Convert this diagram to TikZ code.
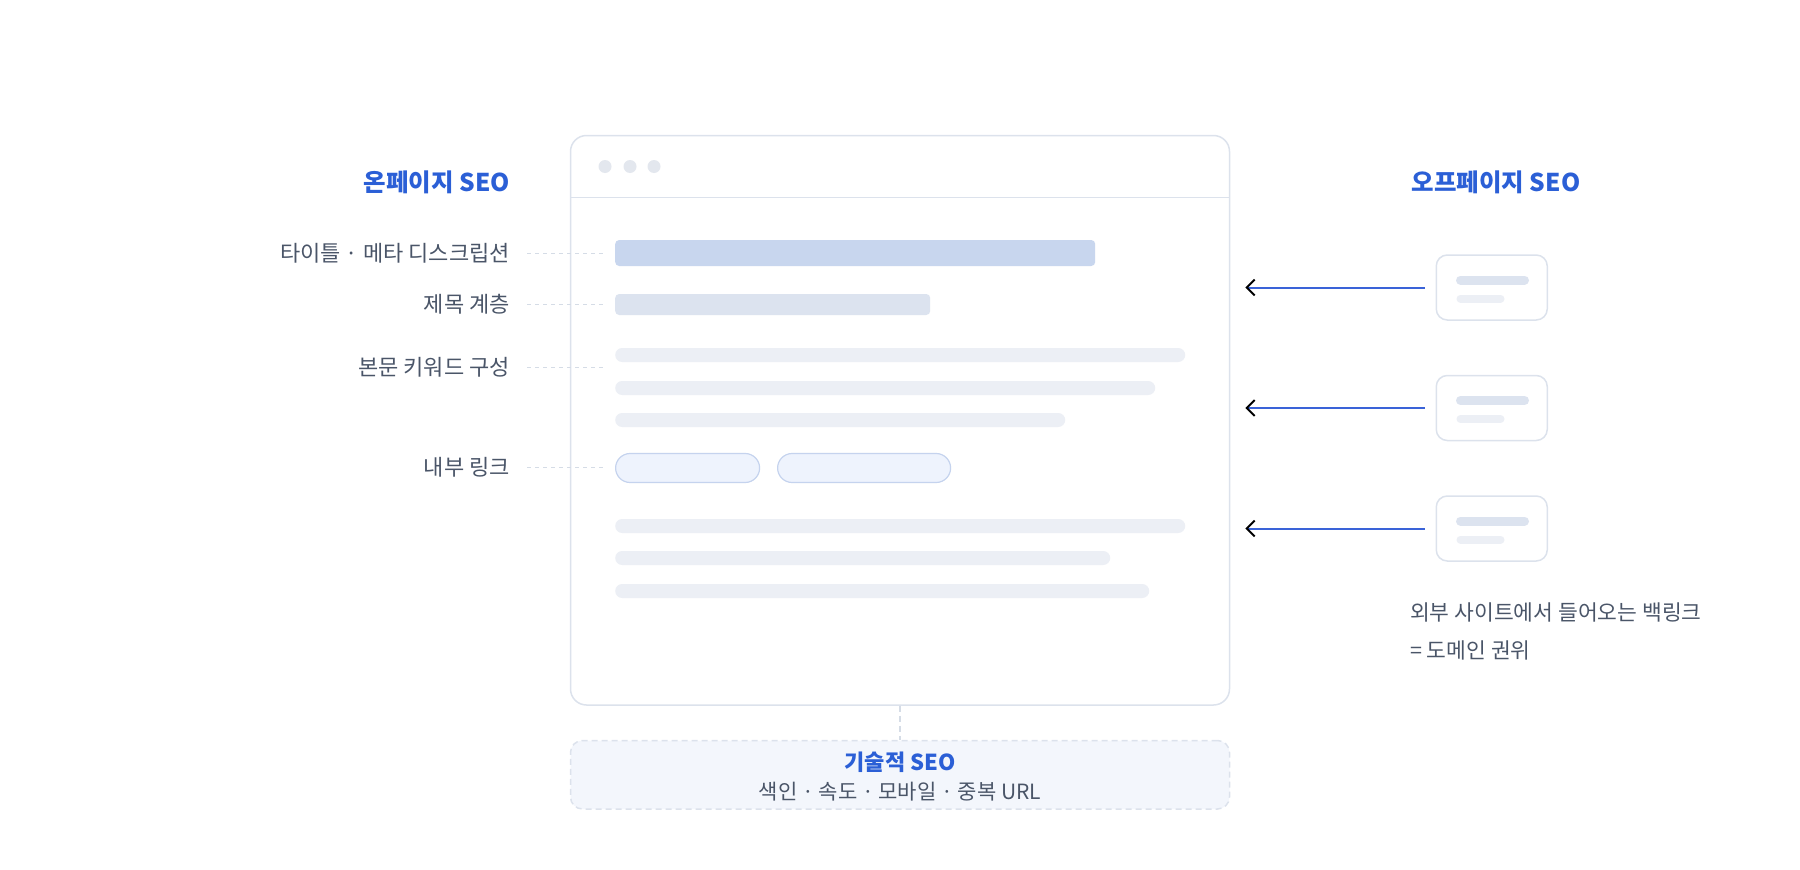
\documentclass[tikz,border=0pt]{standalone}
\usepackage{fontspec}
\setmainfont{Noto Sans CJK KR}
\usetikzlibrary{arrows.meta,positioning}
%
\definecolor{seoblue}{HTML}{2B5FD6}
\definecolor{textgray}{HTML}{4A5568}
\definecolor{framegray}{HTML}{DCE2EC}
\definecolor{dotgray}{HTML}{E3E7EE}
\definecolor{barblue}{HTML}{C8D6EE}
\definecolor{barmid}{HTML}{DCE3EF}
\definecolor{barlight}{HTML}{ECEFF5}
\definecolor{pillfill}{HTML}{EEF3FD}
\definecolor{pillline}{HTML}{C5D3EE}
\definecolor{techfill}{HTML}{F3F6FC}
\definecolor{linkblue}{HTML}{3A63D8}
\definecolor{leadergray}{HTML}{D5DCE6}
%
\tikzset{
  heading/.style={font=\fontsize{24.5}{28}\selectfont\bfseries,text=seoblue,inner sep=0pt},
  itemtext/.style={font=\fontsize{22}{26}\selectfont,text=textgray,inner sep=0pt},
  bar/.style={inner sep=0pt,anchor=west,rounded corners=4pt},
  textline/.style={inner sep=0pt,anchor=west,fill=barlight,minimum height=14pt,rounded corners=7pt},
  pill/.style={inner sep=0pt,anchor=west,fill=pillfill,draw=pillline,line width=1.2pt,
               minimum height=29pt,rounded corners=14.5pt},
  card/.style={draw=framegray,fill=white,line width=1.5pt,rounded corners=11pt,
               minimum width=111pt,minimum height=65pt,inner sep=0pt},
  leader/.style={leadergray,line width=1pt,dash pattern=on 4pt off 4pt},
  backlink/.style={linkblue,line width=2pt,-{Straight Barb[length=8pt,width=16pt,color=black]}},
}
%
\begin{document}
\begin{tikzpicture}[x=1pt,y=-1pt]
%
  \useasboundingbox (0,0) rectangle (1800,870) ;
%
% browser window
  \node (frame) [draw=framegray,line width=1.5pt,fill=white,rounded corners=16pt,
                 minimum width=659pt,minimum height=569.5pt,inner sep=0pt] at (900,420.25) {} ;
  \draw [framegray,line width=1.5pt] (570.5,197.5) -- (1229.5,197.5) ;
  \fill [dotgray] (605,166.5) circle (6.5pt) (630,166.5) circle (6.5pt) (654,166.5) circle (6.5pt) ;
%
  \node (bartitle) [bar,fill=barblue,minimum width=480pt,minimum height=26pt] at (615,253) {} ;
  \node (barhead)  [bar,fill=barmid,minimum width=315pt,minimum height=21pt] at (615,304.5) {} ;
%
  \node (body1) [textline,minimum width=570pt] at (615,355) {} ;
  \node (body2) [textline,minimum width=540pt] at (615,388) {} ;
  \node (body3) [textline,minimum width=450pt] at (615,420) {} ;
%
  \node (link1) [pill,minimum width=144pt] at (615,468) {} ;
  \node (link2) [pill,minimum width=173pt] at (777,468) {} ;
%
  \node (body4) [textline,minimum width=570pt] at (615,526) {} ;
  \node (body5) [textline,minimum width=495pt] at (615,558) {} ;
  \node (body6) [textline,minimum width=534pt] at (615,591) {} ;
%
% on-page
  \node (onpage) [heading,anchor=east] at (510,182.5) {온페이지 SEO} ;
  \node (lbltitle) [itemtext,anchor=east] at (510,253) {타이틀 · 메타 디스크립션} ;
  \node (lblhead)  [itemtext,anchor=east] at (510,304) {제목 계층} ;
  \node (lblbody)  [itemtext,anchor=east] at (510,367) {본문 키워드 구성} ;
  \node (lbllink)  [itemtext,anchor=east] at (510,467) {내부 링크} ;
%
  \draw [leader,shorten <=17pt,shorten >=12pt] (lbltitle.east) -- (lbltitle.east -| bartitle.west) ;
  \draw [leader,shorten <=17pt,shorten >=12pt] (lblhead.east) -- (lblhead.east -| barhead.west) ;
  \draw [leader,shorten <=17pt,shorten >=12pt] (lblbody.east) -- (lblbody.east -| body1.west) ;
  \draw [leader,shorten <=17pt,shorten >=12pt] (lbllink.east) -- (lbllink.east -| link1.west) ;
%
% off-page
  \node (offpage) [heading] at (1496,182.5) {오프페이지 SEO} ;
  \node (card1) [card] at (1491.75,287.5) {} ;
  \node (card2) [card,below=54pt of card1] {} ;
  \node (card3) [card,below=54pt of card2] {} ;
%
  \draw [barmid,line width=9pt,line cap=round] ([xshift=25pt,yshift=7.5pt]card1.west) -- ++(64,0) ;
  \draw [barlight,line width=8pt,line cap=round] ([xshift=25pt,yshift=-11pt]card1.west) -- ++(40,0) ;
  \draw [barmid,line width=9pt,line cap=round] ([xshift=25pt,yshift=7.5pt]card2.west) -- ++(64,0) ;
  \draw [barlight,line width=8pt,line cap=round] ([xshift=25pt,yshift=-11pt]card2.west) -- ++(40,0) ;
  \draw [barmid,line width=9pt,line cap=round] ([xshift=25pt,yshift=7.5pt]card3.west) -- ++(64,0) ;
  \draw [barlight,line width=8pt,line cap=round] ([xshift=25pt,yshift=-11pt]card3.west) -- ++(40,0) ;
%
  \draw [backlink,shorten <=11pt,shorten >=15pt] (card1.west) -- (card1.west -| frame.east) ;
  \draw [backlink,shorten <=11pt,shorten >=15pt] (card2.west) -- (card2.west -| frame.east) ;
  \draw [backlink,shorten <=11pt,shorten >=15pt] (card3.west) -- (card3.west -| frame.east) ;
%
  \node (authority) [itemtext,anchor=west,align=left,font=\fontsize{21.5}{38}\selectfont]
        at (1410,631) {외부 사이트에서 들어오는 백링크\\= 도메인 권위} ;
%
% technical
  \node (techbox) [draw=framegray,fill=techfill,line width=1.5pt,dash pattern=on 6pt off 4pt,
                   rounded corners=12pt,minimum width=659pt,minimum height=68.5pt,inner sep=0pt]
        at (900,774.75) {} ;
  \node (techhead) [heading,font=\fontsize{22}{26}\selectfont\bfseries] at (900,762) {기술적 SEO} ;
  \node (techitems) [itemtext,font=\fontsize{21}{25}\selectfont] at (900,792) {색인 · 속도 · 모바일 · 중복 URL} ;
%
  \draw [leader,line width=1.5pt,dash pattern=on 6pt off 4pt] (frame.south) -- (techbox.north) ;
%
\end{tikzpicture}
\end{document}
